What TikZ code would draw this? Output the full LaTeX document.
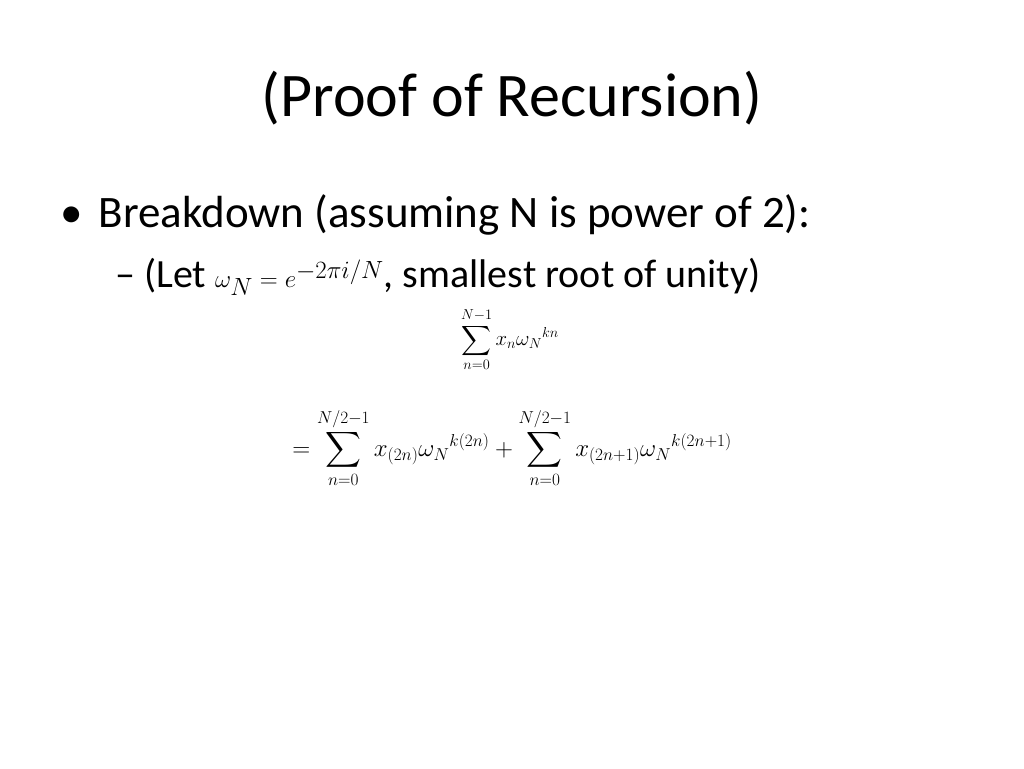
\documentclass[tikz,border=0pt]{standalone}
\usepackage{fontspec}
\setmainfont{Carlito}
\usepackage{amsmath}
\begin{document}
\begin{tikzpicture}[x=1pt,y=-1pt,txt/.style={inner sep=0pt,anchor=west}]
\useasboundingbox (0,0) rectangle (1024,768);
\node[inner sep=0pt] (title) at (512,98) {\fontsize{62}{68}\selectfont (Proof of Recursion)};
\node[txt] (b1) at (60,215) {\fontsize{45}{50}\selectfont • \hspace{6pt}Breakdown (assuming N is power of 2):};
\node[txt] (b2) at (115,277) {\fontsize{40}{46}\selectfont – (Let {\fontsize{54}{58}\selectfont$\omega_N = e^{-2\pi i/N}$}, smallest root of unity)};
\node[inner sep=0pt] (e1) at (510,340) {\fontsize{22}{26}\selectfont $\displaystyle\sum_{n=0}^{N-1} x_n {\omega_N}^{kn}$};
\node[inner sep=0pt] (e2) at (512,448) {\fontsize{23}{27}\selectfont $\displaystyle = \sum_{n=0}^{N/2-1} x_{(2n)} {\omega_N}^{k(2n)} + \sum_{n=0}^{N/2-1} x_{(2n+1)} {\omega_N}^{k(2n+1)}$};
\end{tikzpicture}
\end{document}
